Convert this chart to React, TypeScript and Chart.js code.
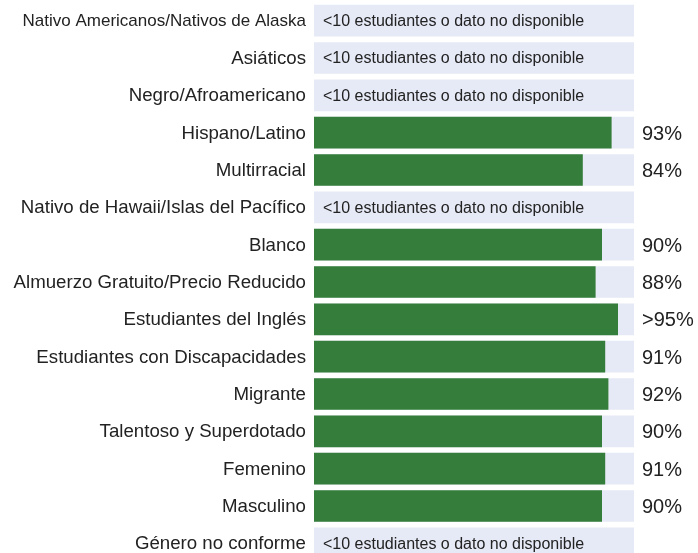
import React, { useEffect, useRef } from "react";
import { Chart, registerables } from "chart.js";

Chart.register(...registerables);

const categories = [
  "Nativo Americanos/Nativos de Alaska",
  "Asiáticos",
  "Negro/Afroamericano",
  "Hispano/Latino",
  "Multirracial",
  "Nativo de Hawaii/Islas del Pacífico",
  "Blanco",
  "Almuerzo Gratuito/Precio Reducido",
  "Estudiantes del Inglés",
  "Estudiantes con Discapacidades",
  "Migrante",
  "Talentoso y Superdotado",
  "Femenino",
  "Masculino",
  "Género no conforme",
];

const values: (number | null)[] = [null, null, null, 93, 84, null, 90, 88, 95, 91, 92, 90, 91, 90, null];

const valueLabels: (string | null)[] = [null, null, null, "93%", "84%", null, "90%", "88%", ">95%", "91%", "92%", "90%", "91%", "90%", null];

const fullScale = categories.map(() => 100);

const noDataText = "<10 estudiantes o dato no disponible";

const FONT = "'Liberation Sans', Arial, Helvetica, sans-serif";

const labelPlugin = {
  id: "barLabels",
  afterDatasetsDraw(chart: any) {
    const ctx = chart.ctx;
    const x = chart.scales.x;
    const y = chart.scales.y;
    ctx.save();
    ctx.fillStyle = "#222";
    ctx.textBaseline = "middle";
    categories.forEach((cat, i) => {
      const cy = y.getPixelForValue(i);
      ctx.textAlign = "right";
      ctx.font = `18.67px ${FONT}`;
      if (ctx.measureText(cat).width > 300) ctx.font = `17px ${FONT}`;
      ctx.fillText(cat, x.left - 8, cy + 1);
      ctx.textAlign = "left";
      if (values[i] == null) {
        ctx.font = `16px ${FONT}`;
        ctx.fillText(noDataText, x.getPixelForValue(0) + 9, cy + 1);
      } else if (valueLabels[i]) {
        ctx.font = `20px ${FONT}`;
        ctx.fillText(valueLabels[i] as string, x.right + 8, cy + 1.5);
      }
    });
    ctx.restore();
  },
};

export default function App() {
  const ref = useRef<HTMLCanvasElement | null>(null);
  useEffect(() => {
    if (!ref.current) return;
    const chart = new Chart(ref.current, {
      type: "bar",
      data: {
        labels: categories,
        datasets: [
          {
            data: values as any,
            backgroundColor: "#357d3a",
            grouped: false,
            barPercentage: 0.85,
            categoryPercentage: 1,
            order: 1,
          },
          {
            data: fullScale,
            backgroundColor: "#e6e9f6",
            grouped: false,
            barPercentage: 0.85,
            categoryPercentage: 1,
            order: 2,
          },
        ],
      },
      options: {
        indexAxis: "y",
        responsive: false,
        animation: false,
        layout: { padding: { top: 2, bottom: 3, left: 0, right: 64 } },
        plugins: { legend: { display: false }, tooltip: { enabled: false } },
        scales: {
          x: { min: 0, max: 100, display: false },
          y: {
            grid: { display: false, drawTicks: false },
            border: { display: false },
            ticks: { display: false },
            afterFit: (s: any) => {
              s.width = 314;
            },
          },
        },
      },
      plugins: [labelPlugin],
    });
    return () => chart.destroy();
  }, []);
  return (
    <div style={{ position: "absolute", left: 0, top: 0, width: 698, height: 553, overflow: "hidden" }}>
      <canvas ref={ref} width={698} height={565} style={{ display: "block" }} />
    </div>
  );
}
